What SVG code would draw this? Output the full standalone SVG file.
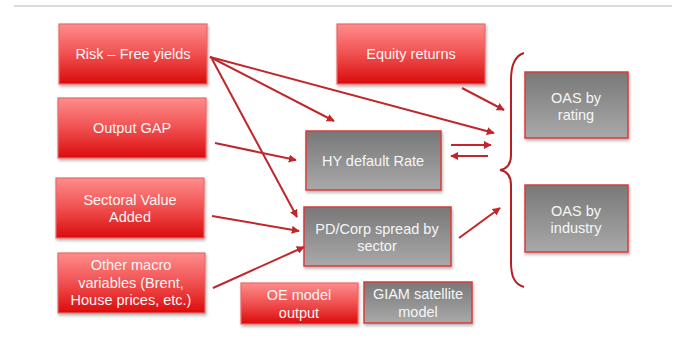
<svg xmlns="http://www.w3.org/2000/svg" width="677" height="345" viewBox="0 0 677 345">
<defs>
<linearGradient id="gr" x1="0" y1="0" x2="0" y2="1">
<stop offset="0" stop-color="#ff8c8c"/>
<stop offset="0.5" stop-color="#f05050"/>
<stop offset="1" stop-color="#db0a0a"/>
</linearGradient>
<linearGradient id="gg" x1="0" y1="0" x2="0" y2="1">
<stop offset="0" stop-color="#787878"/>
<stop offset="1" stop-color="#a9a9a9"/>
</linearGradient>
<filter id="sh" x="-10%" y="-10%" width="130%" height="130%">
<feDropShadow dx="1" dy="2" stdDeviation="1.5" flood-color="#000" flood-opacity="0.3"/>
</filter>
<marker id="ah" viewBox="0 0 10 10" refX="9" refY="5" markerWidth="4" markerHeight="4" orient="auto" markerUnits="strokeWidth">
<path d="M0,0 L10,5 L0,10 z" fill="#c0262a"/>
</marker>
</defs>
<style>
.r{fill:url(#gr);stroke:#e86a6a;stroke-width:1.2;filter:url(#sh)}
.g{fill:url(#gg);stroke:#d83c3c;stroke-width:1.5;filter:url(#sh)}
text{font-family:"Liberation Sans",Arial,sans-serif;font-size:14.5px;fill:#f6f6f6;text-anchor:middle}
.c line{stroke:#c0262a;stroke-width:2;marker-end:url(#ah)}
.br{fill:none;stroke:#b81e22;stroke-width:2}
</style>
<rect width="677" height="345" fill="#fff"/>
<line x1="14" y1="6" x2="672" y2="6" stroke="#dcdcdc" stroke-width="2"/>

<g id="risk"><rect class="r" x="59" y="24" width="148" height="60"/><text x="133" y="59">Risk – Free yields</text></g>
<g id="gap"><rect class="r" x="58" y="98" width="148" height="60"/><text x="132" y="133">Output GAP</text></g>
<g id="sector"><rect class="r" x="56" y="178" width="148" height="60"/><text x="130" y="205">Sectoral Value</text><text x="130" y="222">Added</text></g>
<g id="macro"><rect class="r" x="58" y="253" width="147" height="60"/><text x="131" y="270">Other macro</text><text x="131" y="288">variables (Brent,</text><text x="131" y="305">House prices, etc.)</text></g>
<g id="equity"><rect class="r" x="337" y="24" width="148" height="60"/><text x="411" y="59">Equity returns</text></g>
<g id="oe"><rect class="r" x="241" y="283" width="117" height="41"/><text x="299" y="300">OE model</text><text x="299" y="318">output</text></g>
<g id="giam"><rect class="g" x="364" y="282" width="108" height="41"/><text x="418" y="299">GIAM satellite</text><text x="418" y="317">model</text></g>
<g id="hy"><rect class="g" x="306" y="131" width="135" height="59"/><text x="373" y="166">HY default Rate</text></g>
<g id="pd"><rect class="g" x="304" y="207" width="147" height="59"/><text x="377" y="234">PD/Corp spread by</text><text x="377" y="251">sector</text></g>
<g id="oasr"><rect class="g" x="525" y="72" width="103" height="66"/><text x="576" y="103">OAS by</text><text x="576" y="120">rating</text></g>
<g id="oasi"><rect class="g" x="525" y="185" width="103" height="67"/><text x="576" y="216">OAS by</text><text x="576" y="233">industry</text></g>

<g id="connectors" class="c">
<line x1="210" y1="57" x2="334" y2="121"/>
<line x1="210" y1="57" x2="494" y2="133"/>
<line x1="212" y1="59" x2="297" y2="217"/>
<line x1="462" y1="88" x2="504" y2="110"/>
<line x1="215" y1="143" x2="296" y2="160"/>
<line x1="451" y1="145" x2="491" y2="145"/>
<line x1="488" y1="156" x2="451" y2="156"/>
<line x1="212" y1="216" x2="299" y2="231"/>
<line x1="213" y1="288" x2="304" y2="247"/>
<line x1="459" y1="238" x2="500" y2="208"/>
<path class="br" d="M524,53 C514,56 511,66 511,80 L511,155 C511,165 506,169 500,170 C506,171 511,175 511,185 L511,262 C511,276 514,284 524,287"/>
</g>
</svg>
